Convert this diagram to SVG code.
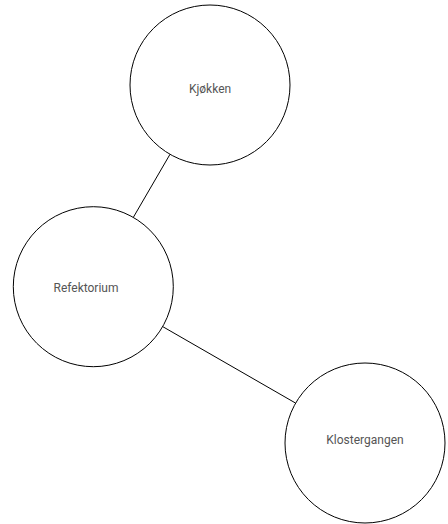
<svg xmlns="http://www.w3.org/2000/svg" width="448" height="524" viewBox="0 0 448 524">
<style>
.node circle{fill:#fff;stroke:#000;stroke-width:1}
.node text{font-family:Roboto,"Liberation Sans",sans-serif;font-size:12px;fill:#555;text-anchor:middle;dominant-baseline:central}
.edges line{stroke:#000;stroke-width:1}
</style>
<rect width="448" height="524" fill="#fff"/>
<g class="edges">
<line x1="170" y1="154.3" x2="133.3" y2="217.4"/>
<line x1="162.7" y1="326.6" x2="295.6" y2="403.1"/>
</g>
<g id="kjokken" class="node"><circle cx="210" cy="85" r="80"/><text x="210" y="89">Kjøkken</text></g>
<g id="refektorium" class="node"><circle cx="93.3" cy="286.7" r="80"/><text x="86" y="288">Refektorium</text></g>
<g id="klostergangen" class="node"><circle cx="365" cy="443" r="80"/><text x="365" y="440">Klostergangen</text></g>
</svg>
